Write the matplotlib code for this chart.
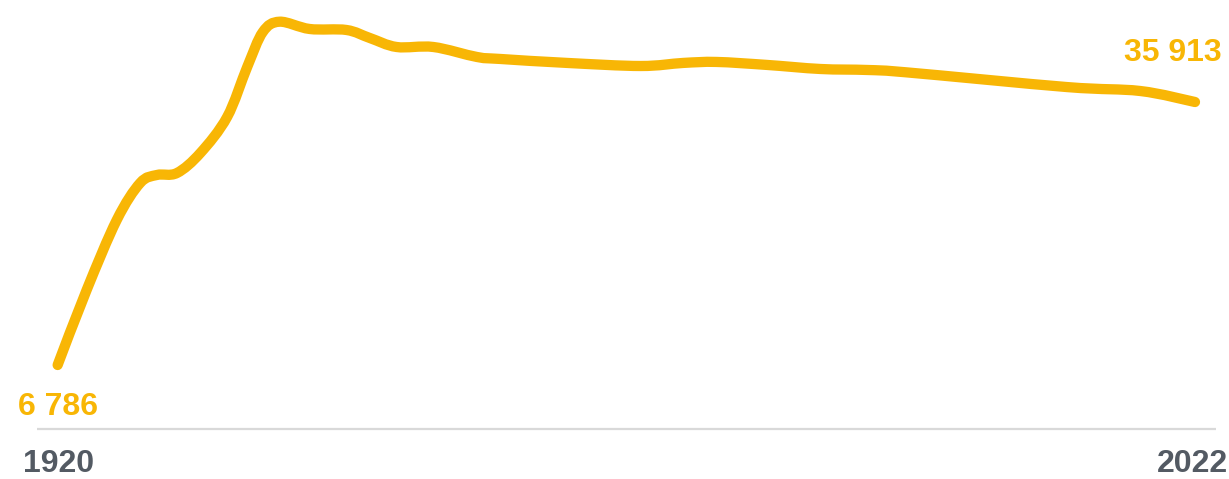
import matplotlib.pyplot as plt
from matplotlib.path import Path
from matplotlib.patches import PathPatch
import numpy as np

# population
years = [1920, 1922.6, 1925.3, 1927.4, 1928.9, 1930.7, 1932.8, 1935.2, 1937.0,
         1938.4, 1939.9, 1942.6, 1945.9, 1948.0, 1950.4, 1953.7, 1957.6, 1959.7,
         1965.7, 1972.3, 1976.1, 1979.1, 1983.6, 1988.4, 1992.6, 1996.1, 2010.5,
         2017.1, 2022]
population = [6786, 15092, 22845, 26943, 27829, 28050, 30265, 34252, 39790,
              43666, 44806, 44000, 43890, 43000, 42005, 42005, 40900, 40680,
              40240, 39900, 40240, 40350, 40020, 39570, 39460, 39200, 37570,
              37130, 35913]
first_label = "6 786"
last_label = "35 913"
year_labels = ["1920", "2022"]

LINE = '#f8b605'
GREY = '#535a63'

plt.rcParams['font.family'] = ['Liberation Sans', 'DejaVu Sans']

W, H = 1229, 479
fig = plt.figure(figsize=(W / 100, H / 100), dpi=100)
ax = fig.add_axes([0, 0, 1, 1])
ax.set_xlim(1914.83, 2025.05)
ax.set_ylim(-5840, 47210)
ax.axis('off')

# smooth curve through the points (Catmull-Rom -> cubic bezier)
p = np.column_stack([years, population])
verts = [tuple(p[0])]
codes = [Path.MOVETO]
for i in range(len(p) - 1):
    p0 = p[i - 1] if i > 0 else p[i]
    p1, p2 = p[i], p[i + 1]
    p3 = p[i + 2] if i + 2 < len(p) else p[i + 1]
    c1 = p1 + (p2 - p0) / 6
    c2 = p2 - (p3 - p1) / 6
    verts += [tuple(c1), tuple(c2), tuple(p2)]
    codes += [Path.CURVE4] * 3
ax.add_patch(PathPatch(Path(verts, codes), fill=False, edgecolor=LINE,
                       lw=7.4, capstyle='round', joinstyle='round'))

# baseline
ax.plot([37 / W, 1216 / W], [1 - 429 / H] * 2, transform=ax.transAxes,
        color='#d9d9d9', lw=1.6, solid_capstyle='butt')

fs = 23
fig.text(18 / W, 1 - 415 / H, first_label, color=LINE, fontsize=fs,
         fontweight='bold', ha='left', va='baseline')
fig.text(1222 / W, 1 - 61 / H, last_label, color=LINE, fontsize=fs,
         fontweight='bold', ha='right', va='baseline')
fig.text(23 / W, 0.001, year_labels[0], color=GREY, fontsize=fs,
         fontweight='bold', ha='left', va='bottom')
fig.text(1228 / W, 0.001, year_labels[1], color=GREY, fontsize=fs,
         fontweight='bold', ha='right', va='bottom')

fig.savefig('out.png', dpi=100)
